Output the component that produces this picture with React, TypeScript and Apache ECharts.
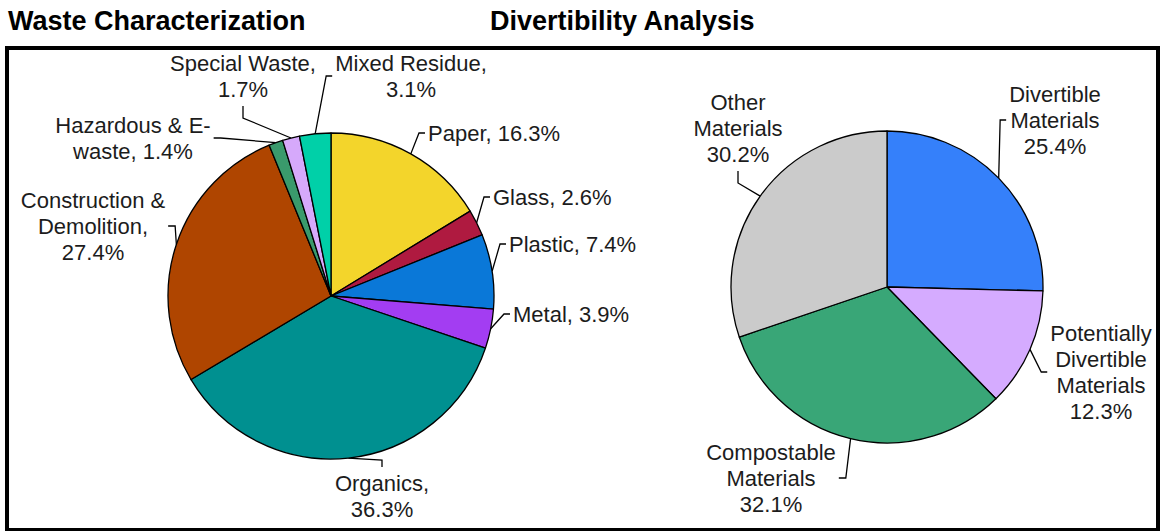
import React, { useEffect, useRef } from "react";
import * as echarts from "echarts";

// Waste characterization (percent of total, clockwise from 12 o'clock)
const wasteCategories = [
  "Paper",
  "Glass",
  "Plastic",
  "Metal",
  "Organics",
  "Construction &\nDemolition",
  "Hazardous & E-\nwaste",
  "Special Waste",
  "Mixed Residue",
];
const wasteValues = [16.3, 2.6, 7.4, 3.9, 36.3, 27.4, 1.4, 1.7, 3.1];
// separator between name and value in each label
const wasteSeparators = [", ", ", ", ", ", ", ", ",\n", ",\n", ", ", ",\n", ",\n"];
const wasteColors = [
  "#F3D52B",
  "#AF1A40",
  "#0A78D8",
  "#A33DF2",
  "#009090",
  "#AF4500",
  "#3A9A6C",
  "#D6A9FB",
  "#00D0A8",
];

// Divertibility analysis (percent of total)
const divertCategories = [
  "Divertible\nMaterials",
  "Potentially\nDivertible\nMaterials",
  "Compostable\nMaterials",
  "Other\nMaterials",
];
const divertValues = [25.4, 12.3, 32.1, 30.2];
const divertColors = ["#3580FA", "#D5ABFF", "#39A677", "#CBCBCB"];

type Side = "left" | "right" | "top" | "bottom";
interface Placement {
  x: number;
  y: number;
  align: "left" | "center";
  side: Side;
}

// Where each label block sits and which side its leader line enters
const wastePlacement: Placement[] = [
  { x: 428, y: 133, align: "left", side: "left" },
  { x: 493, y: 197, align: "left", side: "left" },
  { x: 509, y: 244, align: "left", side: "left" },
  { x: 513, y: 314, align: "left", side: "left" },
  { x: 382, y: 496, align: "center", side: "top" },
  { x: 93, y: 226, align: "center", side: "right" },
  { x: 133, y: 138, align: "center", side: "right" },
  { x: 243, y: 76, align: "center", side: "bottom" },
  { x: 411, y: 76, align: "center", side: "left" },
];
const divertPlacement: Placement[] = [
  { x: 1055, y: 120, align: "center", side: "left" },
  { x: 1101, y: 372, align: "center", side: "left" },
  { x: 771, y: 478, align: "center", side: "right" },
  { x: 738, y: 128, align: "center", side: "bottom" },
];

const FONT = "'Liberation Sans', Arial, Helvetica, sans-serif";

function midPoint(values: number[], i: number, cx: number, cy: number, r: number) {
  const total = values.reduce((a, b) => a + b, 0);
  let before = 0;
  for (let k = 0; k < i; k++) before += values[k];
  const frac = (before + values[i] / 2) / total;
  const ang = frac * Math.PI * 2;
  return [cx + r * Math.sin(ang), cy - r * Math.cos(ang)];
}

function makeLayout(
  values: number[],
  placement: Placement[],
  cx: number,
  cy: number,
  r: number
) {
  return (params: any) => {
    const cfg = placement[params.dataIndex];
    const w = params.labelRect.width;
    const h = params.labelRect.height;
    const left = cfg.align === "left" ? cfg.x : cfg.x - w / 2;
    const right = left + w;
    const top = cfg.y - h / 2;
    const bottom = top + h;
    const midX = (left + right) / 2;
    const p0 = midPoint(values, params.dataIndex, cx, cy, r);
    let elbow: number[];
    let end: number[];
    if (cfg.side === "left") {
      elbow = [left - 9, cfg.y];
      end = [left - 3, cfg.y];
    } else if (cfg.side === "right") {
      elbow = [right + 10, cfg.y];
      end = [right + 3, cfg.y];
    } else if (cfg.side === "top") {
      elbow = [midX, top - 10];
      end = [midX, top - 3];
    } else {
      elbow = [midX, bottom + 16];
      end = [midX, bottom + 4];
    }
    return {
      x: cfg.x,
      y: cfg.y,
      align: cfg.align,
      verticalAlign: "middle",
      labelLinePoints: [p0, elbow, end],
    };
  };
}

function pieSeries(
  categories: string[],
  values: number[],
  colors: string[],
  formatter: (p: any) => string,
  placement: Placement[],
  cx: number,
  cy: number,
  r: number
) {
  return {
    type: "pie",
    center: [cx, cy],
    radius: r,
    startAngle: 90,
    clockwise: true,
    avoidLabelOverlap: false,
    itemStyle: { borderColor: "#000", borderWidth: 1.3 },
    emphasis: { disabled: true },
    label: {
      show: true,
      position: "outside",
      formatter,
      color: "#1c1c1c",
      fontSize: 22,
      lineHeight: 26,
      fontFamily: FONT,
    },
    labelLine: {
      show: true,
      length: 10,
      length2: 10,
      lineStyle: { color: "#000", width: 1.3 },
    },
    labelLayout: makeLayout(values, placement, cx, cy, r),
    data: categories.map((name, i) => ({
      name,
      value: values[i],
      itemStyle: { color: colors[i] },
    })),
  };
}

export default function App() {
  const ref = useRef<HTMLDivElement>(null);

  useEffect(() => {
    if (!ref.current) return;
    const chart = echarts.init(ref.current, null, { renderer: "svg" });
    chart.setOption({
      animation: false,
      backgroundColor: "#fff",
      title: [
        {
          text: "Waste Characterization",
          left: 3,
          top: 2,
          textStyle: { fontSize: 27, fontWeight: "bold", color: "#000", fontFamily: FONT },
        },
        {
          text: "Divertibility Analysis",
          left: 485,
          top: 2,
          textStyle: { fontSize: 27, fontWeight: "bold", color: "#000", fontFamily: FONT },
        },
      ],
      graphic: [
        {
          type: "rect",
          shape: { x: 7, y: 48, width: 1151, height: 482 },
          style: { fill: "none", stroke: "#000", lineWidth: 4 },
          silent: true,
        },
      ],
      series: [
        pieSeries(
          wasteCategories,
          wasteValues,
          wasteColors,
          (p: any) => `${p.name}${wasteSeparators[p.dataIndex]}${p.value}%`,
          wastePlacement,
          331,
          296,
          163
        ),
        pieSeries(
          divertCategories,
          divertValues,
          divertColors,
          (p: any) => `${p.name}\n${p.value}%`,
          divertPlacement,
          887,
          287,
          156
        ),
      ],
    });
    return () => chart.dispose();
  }, []);

  return (
    <div
      ref={ref}
      style={{ position: "fixed", left: 0, top: 0, width: 1161, height: 531 }}
    />
  );
}
